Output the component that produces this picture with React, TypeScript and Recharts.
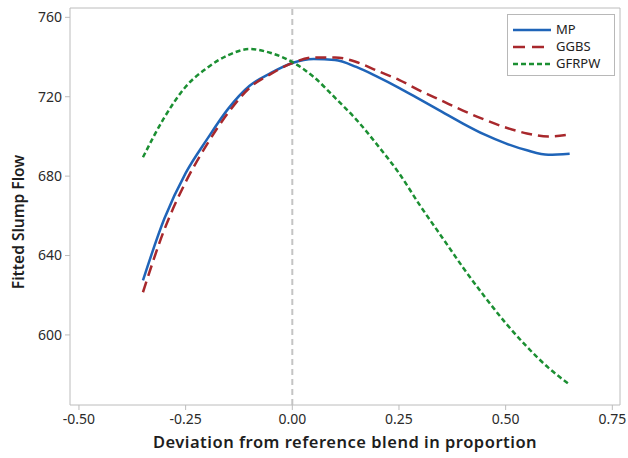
import { LineChart, Line, XAxis, YAxis, ReferenceLine } from 'recharts';

// deviation from reference blend (proportion)
const deviation = [
  -0.35, -0.3, -0.25, -0.2, -0.15, -0.1, -0.05, 0, 0.05, 0.1, 0.15,
  0.2, 0.25, 0.3, 0.35, 0.4, 0.45, 0.5, 0.55, 0.6, 0.65,
];

// fitted slump flow per component
const mpFlow = [
  627.5, 658.5, 681.5, 698.5, 714, 725.5, 732, 737, 739, 738.5, 735,
  730, 724.5, 718.5, 712.5, 706.5, 701, 696.5, 693, 690.8, 691.3,
];
const ggbsFlow = [
  621.5, 653, 677, 696, 712, 724.5, 731.5, 737, 739.8, 739.8, 737.5,
  733, 728.5, 723, 718, 713, 708.5, 704.5, 701.5, 700, 701,
];
const gfrpwFlow = [
  689.5, 709.5, 725, 734.5, 741, 744, 742, 737.5, 730, 719.5, 708.5,
  695.5, 681.5, 665, 649.5, 634, 619.5, 606, 594, 583.5, 575,
];

const xTicks = [-0.5, -0.25, 0, 0.25, 0.5, 0.75];
const yTicks = [600, 640, 680, 720, 760];

const data = deviation.map((d, i) => ({
  x: d,
  MP: mpFlow[i],
  GGBS: ggbsFlow[i],
  GFRPW: gfrpwFlow[i],
}));

const series = [
  { key: 'MP', color: '#1f64b8', dash: undefined, legendDash: undefined },
  { key: 'GGBS', color: '#a8282c', dash: '11 6', legendDash: '12 7' },
  { key: 'GFRPW', color: '#1b8f32', dash: '5 3', legendDash: '5 3' },
];

const FONT = '"Noto Sans", "Open Sans", sans-serif';
const AXIS = '#bcbcbc';

// legend box drawn over the plot, top-right corner
function LegendBox(): JSX.Element {
  return (
    <div
      style={{
        position: 'absolute',
        left: 507,
        top: 14,
        width: 108,
        height: 62,
        boxSizing: 'border-box',
        border: '1px solid #b8b8b8',
        background: '#fff',
        padding: '6px 6px 0 5px',
        fontFamily: FONT,
        fontSize: 13,
        color: '#222',
        lineHeight: '17px',
      }}
    >
      {series.map((s) => (
        <div key={s.key} style={{ display: 'flex', alignItems: 'center' }}>
          <svg width={38} height={10} style={{ marginRight: 5 }}>
            <line
              x1={0}
              y1={5}
              x2={38}
              y2={5}
              stroke={s.color}
              strokeWidth={2.5}
              strokeDasharray={s.legendDash}
            />
          </svg>
          <span>{s.key}</span>
        </div>
      ))}
    </div>
  );
}

export default function App(): JSX.Element {
  return (
    <div style={{ position: 'absolute', left: 0, top: 0, width: 628, height: 458, background: '#fff' }}>
      <LineChart
        width={628}
        height={458}
        data={data}
        margin={{ top: 8, right: 8, bottom: 0, left: 0 }}
      >
        <XAxis
          dataKey="x"
          type="number"
          domain={[-0.521, 0.768]}
          ticks={xTicks}
          tickFormatter={(v: number) => v.toFixed(2)}
          allowDataOverflow
          height={53}
          stroke={AXIS}
          tickSize={5}
          tickMargin={4}
          tick={{ fill: '#2a2a2a', fontSize: 14, fontFamily: FONT }}
          label={{
            value: 'Deviation from reference blend in proportion',
            position: 'insideBottom',
            offset: 10,
            style: {
              fill: '#1e1e1e',
              fontSize: 16.5,
              letterSpacing: 0.5,
              fontWeight: 600,
              fontFamily: FONT,
            },
          }}
        />
        <YAxis
          type="number"
          domain={[564.7, 764.7]}
          ticks={yTicks}
          allowDataOverflow
          width={70}
          stroke={AXIS}
          tickSize={5}
          tickMargin={3}
          tick={{ fill: '#2a2a2a', fontSize: 14, fontFamily: FONT }}
        />
        <ReferenceLine y={764.7} stroke={AXIS} />
        <ReferenceLine x={0.768} stroke={AXIS} />
        <ReferenceLine x={0} stroke="#c4c4c4" strokeWidth={2} strokeDasharray="6 4" />
        {series.map((s) => (
          <Line
            key={s.key}
            dataKey={s.key}
            type="monotone"
            stroke={s.color}
            strokeWidth={2.5}
            strokeDasharray={s.dash}
            dot={false}
            isAnimationActive={false}
          />
        ))}
      </LineChart>
      {/* y axis title, rotated */}
      <div
        style={{
          position: 'absolute',
          left: 18,
          top: 222,
          transform: 'translate(-50%, -50%) rotate(-90deg)',
          whiteSpace: 'nowrap',
          fontFamily: FONT,
          fontSize: 15.5,
          fontWeight: 600,
          color: '#1e1e1e',
          lineHeight: '18px',
        }}
      >
        Fitted Slump Flow
      </div>
      <LegendBox />
    </div>
  );
}
